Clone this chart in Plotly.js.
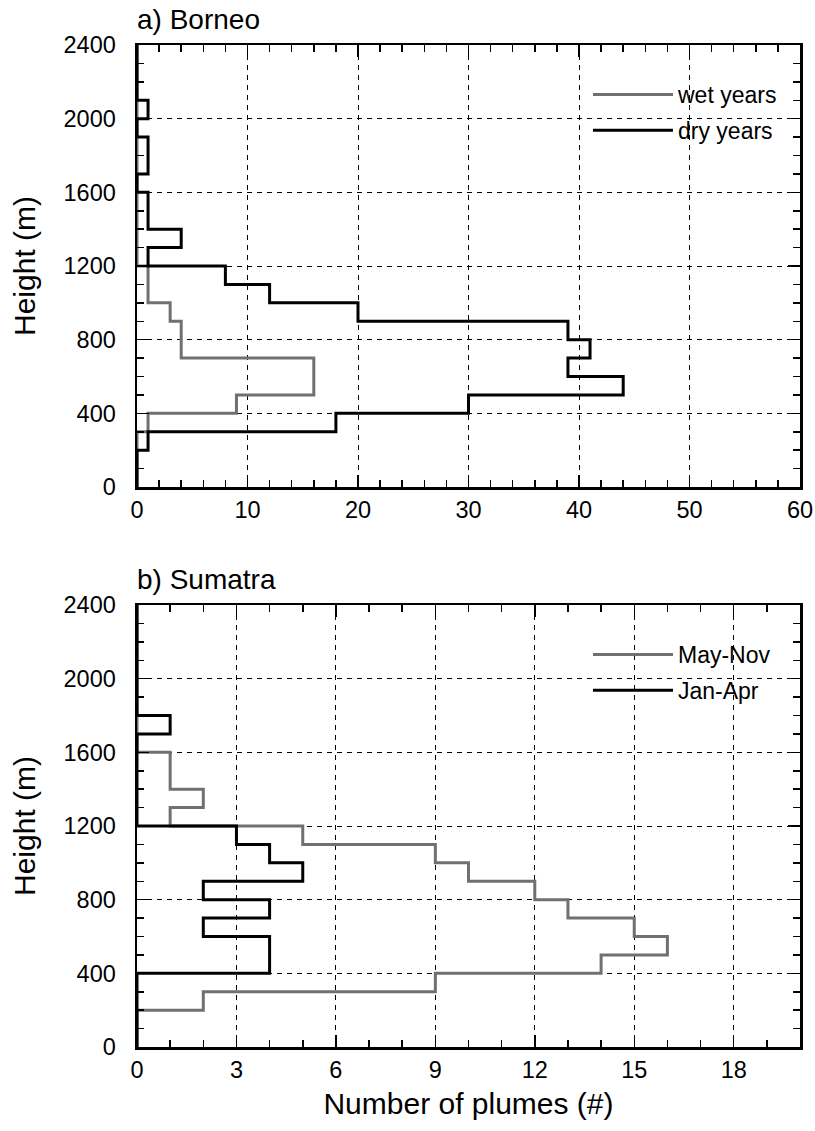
<!DOCTYPE html>
<html>
<head>
<meta charset="utf-8">
<script src="https://cdn.plot.ly/plotly-3.0.1.min.js"></script>
<style>
  html, body { margin: 0; padding: 0; background: #ffffff; }
  #chart { width: 815px; height: 1131px; }
</style>
</head>
<body>
<div id="chart"></div>
<script>
// Height bin edges (m), 100 m bins from 0 to 2400
const binEdges = [0,100,200,300,400,500,600,700,800,900,1000,1100,1200,1300,1400,1500,1600,1700,1800,1900,2000,2100,2200,2300,2400];

// a) Borneo: number of plumes per height bin
const borneoWet = [0,0,0,1,9,16,16,4,4,3,1,1,0,0,0,0,0,0,0,0,0,0,0,0];
const borneoDry = [0,0,1,18,30,44,39,41,39,20,12,8,1,4,1,1,0,1,1,0,1,0,0,0];

// b) Sumatra: number of plumes per height bin
const sumatraMayNov = [0,0,2,9,14,16,15,13,12,10,9,5,1,2,1,1,0,0,0,0,0,0,0,0];
const sumatraJanApr = [0,0,0,0,4,4,2,4,2,5,4,3,0,0,0,0,0,1,0,0,0,0,0,0];

// Tick values
const heightTicks = [0,400,800,1200,1600,2000,2400];
const borneoTicks = [0,10,20,30,40,50,60];
const sumatraTicks = [0,3,6,9,12,15,18];

const GRAY = '#707070';
const BLACK = '#000000';
const FONT = 'Liberation Sans, Arial, Helvetica, sans-serif';

function stepTrace(counts, name, color, xa, ya, legend) {
  const x = counts.concat([counts[counts.length - 1]]);
  const y = binEdges.slice();
  return {
    type: 'scatter', mode: 'lines', name: name, legendgroup: name,
    x: x, y: y, xaxis: xa, yaxis: ya, legend: legend,
    line: { color: color, width: 3, shape: 'vh' },
    hoverinfo: 'x+y'
  };
}

const data = [
  stepTrace(borneoWet, 'wet years', GRAY, 'x', 'y', 'legend'),
  stepTrace(borneoDry, 'dry years', BLACK, 'x', 'y', 'legend'),
  stepTrace(sumatraMayNov, 'May-Nov', GRAY, 'x2', 'y2', 'legend2'),
  stepTrace(sumatraJanApr, 'Jan-Apr', BLACK, 'x2', 'y2', 'legend2')
];

const W = 815, H = 1131;
const left = 137 / W, right = 800 / W;
const topA = 1 - 45 / H, botA = 1 - 487 / H;
const topB = 1 - 605 / H, botB = 1 - 1047 / H;

function xAxis(range, ticks, minorDtick, anchor) {
  return {
    domain: [left, right], anchor: anchor,
    range: range, tickmode: 'array', tickvals: ticks, ticktext: ticks.map(String),
    ticks: 'inside', ticklen: 12, tickwidth: 1.5, tickcolor: '#000',
    minor: { dtick: minorDtick, ticks: 'inside', ticklen: 7, tickwidth: 1.5, tickcolor: '#000', showgrid: false },
    showline: true, linecolor: '#000', linewidth: 2.5, mirror: 'ticks',
    showgrid: true, gridcolor: '#000', gridwidth: 1, griddash: '5px,5px',
    zeroline: false, fixedrange: true,
    tickfont: { family: FONT, size: 23.5, color: '#000' },
    ticklabelstandoff: 0
  };
}
function yAxis(domain, anchor) {
  return {
    domain: domain, anchor: anchor,
    range: [0, 2400], tickmode: 'array', tickvals: heightTicks, ticktext: heightTicks.map(String),
    ticks: 'inside', ticklen: 12, tickwidth: 1.5, tickcolor: '#000',
    minor: { dtick: 100, ticks: 'inside', ticklen: 7, tickwidth: 1.5, tickcolor: '#000', showgrid: false },
    showline: true, linecolor: '#000', linewidth: 2.5, mirror: 'ticks',
    showgrid: true, gridcolor: '#000', gridwidth: 1, griddash: '5px,5px',
    zeroline: false, fixedrange: true,
    tickfont: { family: FONT, size: 23.5, color: '#000' },
    ticklabelstandoff: 14,
    title: { text: 'Height (m)', font: { family: FONT, size: 30, color: '#000' }, standoff: 19 }
  };
}

const xa1 = xAxis([0, 60], borneoTicks, 2, 'y');
const xa2 = xAxis([0, 20], sumatraTicks, 1, 'y2');
xa2.title = { text: 'Number of plumes (#)', font: { family: FONT, size: 30, color: '#000' }, standoff: 12 };

const legendCommon = {
  xanchor: 'left', yanchor: 'top',
  bgcolor: 'rgba(0,0,0,0)', borderwidth: 0,
  font: { family: FONT, size: 23, color: '#000' },
  itemwidth: 80, tracegroupgap: 3, traceorder: 'grouped'
};

const layout = {
  width: W, height: H,
  margin: { l: 0, r: 0, t: 0, b: 0, pad: 0 },
  paper_bgcolor: '#fff', plot_bgcolor: '#fff',
  font: { family: FONT, color: '#000' },
  showlegend: true,
  xaxis: xa1,
  yaxis: yAxis([botA, topA], 'x'),
  xaxis2: xa2,
  yaxis2: yAxis([botB, topB], 'x2'),
  legend: Object.assign({ x: 588 / W, y: 1 - 73 / H }, legendCommon),
  legend2: Object.assign({ x: 588 / W, y: 1 - 633 / H }, legendCommon),
  annotations: [
    { text: 'a) Borneo', xref: 'paper', yref: 'paper', x: left - 2 / W, y: 1 - 37 / H,
      xanchor: 'left', yanchor: 'bottom', showarrow: false,
      font: { family: FONT, size: 28, color: '#000' } },
    { text: 'b) Sumatra', xref: 'paper', yref: 'paper', x: left - 2 / W, y: 1 - 597 / H,
      xanchor: 'left', yanchor: 'bottom', showarrow: false,
      font: { family: FONT, size: 28, color: '#000' } }
  ]
};

Plotly.newPlot('chart', data, layout, { staticPlot: true, displayModeBar: false });
</script>
</body>
</html>
